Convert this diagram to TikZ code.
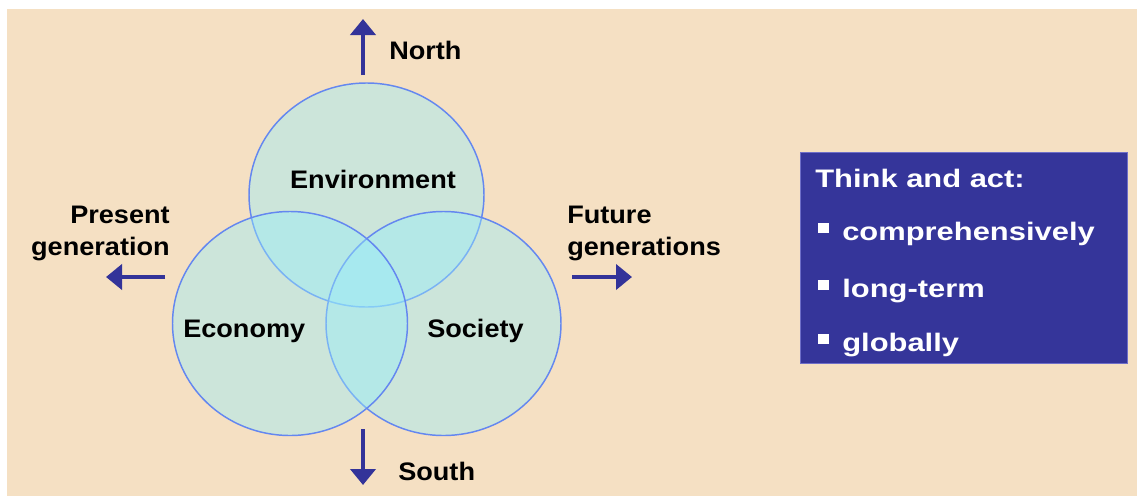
\documentclass[tikz,border=0pt]{standalone}
\usepackage{fontspec}
\setmainfont{Liberation Sans}[FakeStretch=1.07]
\newfontfamily\boxfont{Liberation Sans}[FakeStretch=1.22]
\usetikzlibrary{arrows.meta}
\definecolor{beige}{RGB}{245,224,195}
\definecolor{venn}{RGB}{150,236,250}
\definecolor{rim}{RGB}{100,135,240}
\definecolor{navy}{RGB}{51,51,153}
\definecolor{boxblue}{RGB}{53,53,154}
\definecolor{boxrim}{RGB}{110,110,200}

\begin{document}
\begin{tikzpicture}[x=0.75pt,y=-0.75pt,
  lbl/.style={font=\fontsize{19}{24}\selectfont\bfseries,inner sep=0pt},
  bx/.style={font=\boxfont\fontsize{19}{24}\selectfont\bfseries,inner sep=0pt,white,anchor=base west},
  dir/.style={navy,line width=3pt,-{Triangle[width=18.75pt,length=12pt]}},
  set/.style={fill=venn,fill opacity=0.43,draw=rim,line width=1.1pt}]
  \useasboundingbox (0,0) rectangle (1137,496);
  \fill[beige] (7,9) rectangle (1137,496);
  \filldraw[set] (366.5,195) ellipse [x radius=117.5,y radius=112];
  \filldraw[set] (443.5,323.5) ellipse [x radius=117.5,y radius=112];
  \filldraw[set] (290,323.5) ellipse [x radius=117.5,y radius=112];
  \node[lbl,anchor=base] (env) at (373,188) {Environment};
  \node[lbl,anchor=base west] (eco) at (183,337) {Economy};
  \node[lbl,anchor=base west] (soc) at (427,337) {Society};
  \coordinate (n0) at (363,75);  \coordinate (n1) at (363,19);
  \coordinate (s0) at (363,429); \coordinate (s1) at (363,485);
  \coordinate (w0) at (165,277); \coordinate (w1) at (106,277);
  \coordinate (e0) at (572,277); \coordinate (e1) at (632,277);
  \draw[dir] (n0) -- (n1);
  \draw[dir] (s0) -- (s1);
  \draw[dir] (w0) -- (w1);
  \draw[dir] (e0) -- (e1);
  \node[lbl,anchor=base west] (north) at (389,59) {North};
  \node[lbl,anchor=base west] (south) at (398,480) {South};
  \node[lbl,align=right,anchor=base east] (present) at (170,255) {Present\\generation};
  \node[lbl,align=left,anchor=base west] (future) at (567,255) {Future\\generations};
  \node[draw=boxrim,fill=boxblue,line width=0.75pt,minimum width=245.25pt,minimum height=158.25pt,inner sep=0pt] (thinkbox) at (963.5,257.5) {};
  \node[bx] (think) at (815,187) {Think and act:};
  \foreach \y/\t/\n in {240/comprehensively/comp,297/long-term/long,351/globally/glob}{
    \fill[white] (818,\y-17) rectangle (829,\y-7);
    \node[bx] (\n) at (842,\y) {\t};
  }
\end{tikzpicture}
\end{document}
